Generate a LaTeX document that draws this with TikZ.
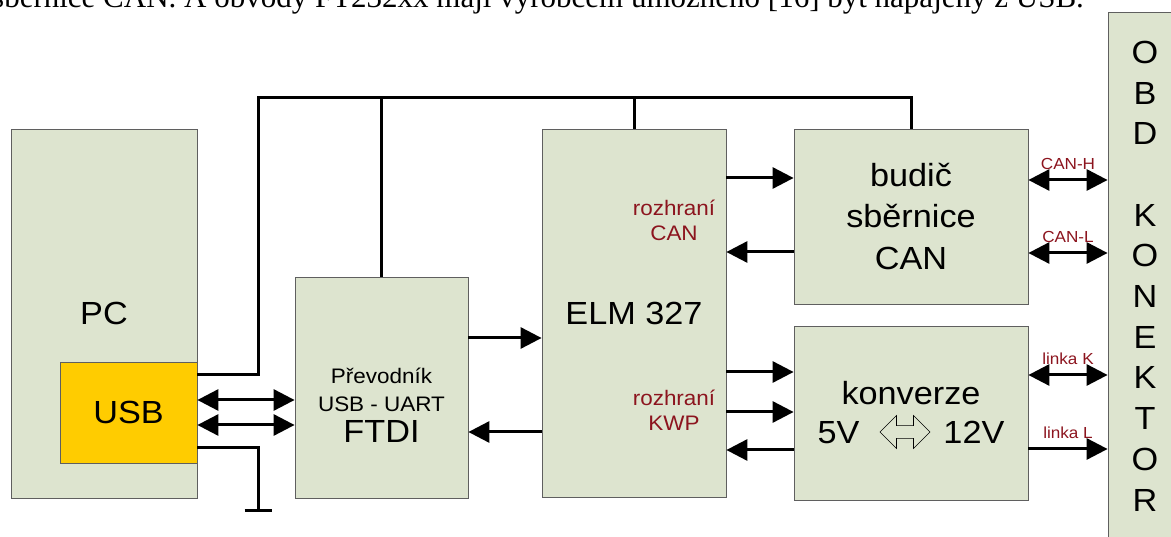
\documentclass[tikz,border=0pt]{standalone}
\usepackage{fontspec}
\setmainfont[FakeStretch=1.07]{Liberation Sans}
\newfontfamily\serifnote{Liberation Serif}
\usetikzlibrary{arrows.meta, positioning, calc, shapes.arrows}

\definecolor{blockgreen}{RGB}{221,228,207}
\definecolor{usbyellow}{RGB}{255,204,0}
\definecolor{labelred}{RGB}{140,20,30}
\definecolor{edgegray}{RGB}{95,95,95}

\newcommand{\fsBig}{\fontsize{32}{38}\selectfont}
\newcommand{\fsMid}{\fontsize{21}{28}\selectfont}
\newcommand{\fsLbl}{\fontsize{21}{25}\selectfont}
\newcommand{\fsPin}{\fontsize{16}{19}\selectfont}

\begin{document}
\begin{tikzpicture}[
  x=1pt, y=-1pt,
  >={Triangle[length=21pt, width=21pt]},
  every node/.style={font=\fsBig},
  %% ── Block styles ────────────────────────────────────────────────────────
  block/.style={
    draw=edgegray, line width=0.8pt, fill=blockgreen,
    inner sep=0pt, align=center
  },
  usbblock/.style={block, fill=usbyellow},
  %% ── Connector styles ────────────────────────────────────────────────────
  wire/.style={line width=3pt},
  arr/.style={->, line width=3pt},
  darr/.style={<->, line width=3pt},
  %% ── Label styles ────────────────────────────────────────────────────────
  iface/.style={font=\fsLbl, text=labelred, align=center},
  pinlbl/.style={font=\fsPin, text=labelred, midway, above=9pt, inner sep=0pt},
]

\useasboundingbox (0,0) rectangle (1171,537);
\clip (0,0) rectangle (1171,537);

%% ═══════════════════════════════════════════════════════════════════════════
%% TEXT LINE ABOVE
%% ═══════════════════════════════════════════════════════════════════════════

\node[anchor=base west, inner sep=0pt, font=\serifnote\fontsize{31}{37}\selectfont]
  (note) at (-8, 7.5)
  {sběrnice CAN. A obvody FT232xx mají výrobcem umožněno [16] být napájeny z USB.};

%% ═══════════════════════════════════════════════════════════════════════════
%% BLOCKS
%% ═══════════════════════════════════════════════════════════════════════════

%% — PC with USB port ────────────────────────────────────────────────────────
\node[block, minimum width=186pt, minimum height=369pt]
  (PC) at (104, 313.5) {PC};

\node[usbblock, minimum width=137pt, minimum height=101pt]
  (USB) at (128.5, 412.5) {USB};

%% — USB/UART converter ──────────────────────────────────────────────────────
\node[block, minimum width=173pt, minimum height=221pt]
  (FTDI) at (381.5, 387.5) {};

\node[align=center, inner sep=0pt, font=\fsMid]
  (FTDIlbl) at ([yshift=-18pt]FTDI.center)
  {Převodník\\USB - UART\\[3pt]\fsBig FTDI};

%% — ELM 327 ─────────────────────────────────────────────────────────────────
\node[block, minimum width=184pt, minimum height=368pt]
  (ELM) at (634, 313) {ELM 327};

\node[iface] (ifCAN) at (674, 220) {rozhraní\\CAN};
\node[iface] (ifKWP) at (674, 410) {rozhraní\\KWP};

%% — CAN driver and level converter ──────────────────────────────────────────
\node[block, minimum width=234pt, minimum height=175pt,
      font=\fontsize{32}{41.5}\selectfont]
  (BUD) at (911, 216.5) {budič\\sběrnice\\CAN};

\node[block, minimum width=234pt, minimum height=174pt,
      font=\fontsize{32}{39}\selectfont]
  (KONV) at (911, 413) {konverze\\5V\hspace{84pt}12V};

\node[double arrow, draw=black, line width=0.6pt, fill=blockgreen,
      minimum height=50pt, minimum width=33pt, inner sep=6pt,
      double arrow head extend=10pt]
  (conv) at (905, 432) {};

%% — OBD connector ───────────────────────────────────────────────────────────
\node[block, minimum width=74pt, minimum height=527pt,
      font=\fontsize{32}{40.7}\selectfont]
  (OBD) at (1145, 276)
  {O\\B\\D\\[40.7pt]K\\O\\N\\E\\K\\T\\O\\R};

%% ═══════════════════════════════════════════════════════════════════════════
%% SUPPLY BUS AND GROUND
%% ═══════════════════════════════════════════════════════════════════════════

\coordinate (busL) at (258, 98);
\coordinate (gnd)  at (258, 510);

\draw[wire] (USB.east |- 0,375) -| (busL) -| (BUD.north);
\draw[wire] (FTDI.north) -- (FTDI.north |- busL);
\draw[wire] (ELM.north)  -- (ELM.north |- busL);

\draw[wire] (USB.east |- 0,448) -| (gnd);
\draw[wire] ([xshift=-13.5pt]gnd) -- ([xshift=13.5pt]gnd);

%% ═══════════════════════════════════════════════════════════════════════════
%% DATA LINES
%% ═══════════════════════════════════════════════════════════════════════════

%% — PC <-> FTDI <-> ELM ─────────────────────────────────────────────────────
\draw[darr] (USB.east |- 0,400) -- (FTDI.west |- 0,400);
\draw[darr] (USB.east |- 0,425) -- (FTDI.west |- 0,425);

\draw[arr] (FTDI.east |- 0,338) -- (ELM.west |- 0,338);
\draw[arr] (ELM.west |- 0,432)  -- (FTDI.east |- 0,432);

%% — ELM <-> drivers ─────────────────────────────────────────────────────────
\draw[arr] (ELM.east |- 0,178) -- (BUD.west |- 0,178);
\draw[arr] (BUD.west |- 0,252) -- (ELM.east |- 0,252);

\draw[arr] (ELM.east |- 0,372)  -- (KONV.west |- 0,372);
\draw[arr] (ELM.east |- 0,412)  -- (KONV.west |- 0,412);
\draw[arr] (KONV.west |- 0,450) -- (ELM.east |- 0,450);

%% — drivers <-> OBD connector ───────────────────────────────────────────────
\draw[darr] (BUD.east |- 0,180) -- node[pinlbl] {CAN-H} (OBD.west |- 0,180);
\draw[darr] (BUD.east |- 0,253) -- node[pinlbl] {CAN-L} (OBD.west |- 0,253);

\draw[darr] (KONV.east |- 0,375) -- node[pinlbl] {linka K} (OBD.west |- 0,375);
\draw[arr]  (KONV.east |- 0,449) -- node[pinlbl] {linka L} (OBD.west |- 0,449);

\end{tikzpicture}
\end{document}
